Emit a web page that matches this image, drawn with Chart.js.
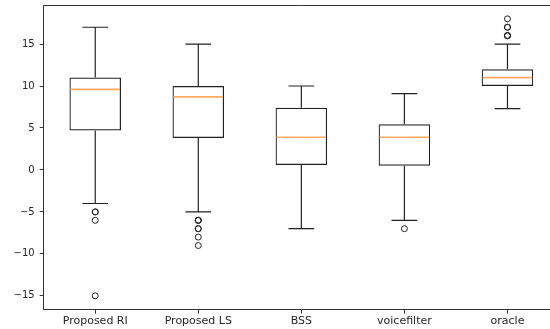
<!DOCTYPE html>
<html>
<head>
<meta charset="utf-8">
<script src="https://cdn.jsdelivr.net/npm/chart.js@4/dist/chart.umd.min.js"></script>
<style>
  html, body { margin: 0; padding: 0; overflow: hidden; background: #fff; }
  canvas { display: block; }
</style>
</head>
<body>
<canvas id="c" width="564" height="329"></canvas>
<script>
// Box statistics per system
const categories = ['Proposed RI', 'Proposed LS', 'BSS', 'voicefilter', 'oracle'];
const q1 = [4.7, 3.8, 0.6, 0.5, 10.0];
const medians = [9.6, 8.7, 3.9, 3.9, 11.0];
const q3 = [11.0, 10.0, 7.4, 5.45, 12.0];
const whiskerLow = [-4, -5, -7, -6, 7.3];
const whiskerHigh = [17, 15, 10, 9.1, 15];
const outliers = [
  [-5, -5, -6, -15],
  [-6, -6, -6, -7, -7, -8, -9],
  [],
  [-7],
  [18, 17, 17, 16, 16, 16]
];
const yTicks = [-15, -10, -5, 0, 5, 10, 15];

const INK = '#222';
const MEDIAN = '#ffa95e';

const outlierPoints = [];
outliers.forEach((list, i) => list.forEach(v => outlierPoints.push({ x: categories[i], y: v })));

// Whiskers, caps, medians and the frame
const boxExtras = {
  id: 'boxExtras',
  afterDatasetsDraw(chart) {
    const { ctx, scales: { x, y }, chartArea } = chart;
    const unit = x.getPixelForValue(1) - x.getPixelForValue(0);
    ctx.save();
    categories.forEach((c, i) => {
      const cx = x.getPixelForValue(i);
      const capHalf = unit * 0.125;
      const boxHalf = unit * 0.25;
      ctx.beginPath();
      ctx.lineWidth = 1.2;
      ctx.strokeStyle = INK;
      ctx.moveTo(cx, y.getPixelForValue(q1[i]));
      ctx.lineTo(cx, y.getPixelForValue(whiskerLow[i]));
      ctx.moveTo(cx, y.getPixelForValue(q3[i]));
      ctx.lineTo(cx, y.getPixelForValue(whiskerHigh[i]));
      ctx.moveTo(cx - capHalf, y.getPixelForValue(whiskerLow[i]));
      ctx.lineTo(cx + capHalf, y.getPixelForValue(whiskerLow[i]));
      ctx.moveTo(cx - capHalf, y.getPixelForValue(whiskerHigh[i]));
      ctx.lineTo(cx + capHalf, y.getPixelForValue(whiskerHigh[i]));
      ctx.stroke();
      ctx.beginPath();
      ctx.strokeStyle = MEDIAN;
      ctx.lineWidth = 1.6;
      const my = y.getPixelForValue(medians[i]);
      ctx.moveTo(cx - boxHalf + 1, my);
      ctx.lineTo(cx + boxHalf - 1, my);
      ctx.stroke();
    });
    ctx.beginPath();
    ctx.strokeStyle = '#333';
    ctx.lineWidth = 1;
    ctx.moveTo(chartArea.left, chartArea.top + 0.5);
    ctx.lineTo(chartArea.right, chartArea.top + 0.5);
    ctx.stroke();
    ctx.restore();
  }
};

new Chart(document.getElementById('c'), {
  data: {
    labels: categories,
    datasets: [
      {
        type: 'bar',
        data: categories.map((c, i) => [q1[i], q3[i]]),
        backgroundColor: 'rgba(0,0,0,0)',
        borderColor: INK,
        borderWidth: 1.2,
        borderSkipped: false,
        categoryPercentage: 1,
        barPercentage: 0.5
      },
      {
        type: 'line',
        data: outlierPoints,
        showLine: false,
        pointStyle: 'circle',
        pointRadius: 3,
        pointBorderWidth: 1,
        pointBorderColor: INK,
        pointBackgroundColor: 'rgba(0,0,0,0)'
      }
    ]
  },
  options: {
    responsive: false,
    devicePixelRatio: 1,
    animation: false,
    layout: { padding: { left: 0, right: 1.5, top: 5, bottom: 0 } },
    plugins: { legend: { display: false }, tooltip: { enabled: false } },
    scales: {
      x: {
        type: 'category',
        offset: true,
        grid: { display: true, drawOnChartArea: false, color: '#333', tickLength: 4, offset: false },
        border: { color: '#333', width: 1 },
        ticks: { color: '#262626', font: { family: 'DejaVu Sans', size: 11 }, padding: 1, maxRotation: 0 },
        afterFit(s) { s.height = 19.3; s.paddingLeft = 0; s.paddingRight = 0; }
      },
      y: {
        type: 'linear',
        min: -16.65,
        max: 19.65,
        grid: { display: true, drawOnChartArea: false, color: '#333', tickLength: 4 },
        border: { color: '#333', width: 1 },
        afterBuildTicks(s) { s.ticks = yTicks.map(v => ({ value: v })); },
        ticks: {
          color: '#262626',
          font: { family: 'DejaVu Sans', size: 10 },
          padding: 5,
          callback: v => String(v).replace('-', '\u2212')
        },
        afterFit(s) { s.width = 43.7; s.paddingTop = 0; s.paddingBottom = 0; }
      }
    }
  },
  plugins: [boxExtras]
});
</script>
</body>
</html>
